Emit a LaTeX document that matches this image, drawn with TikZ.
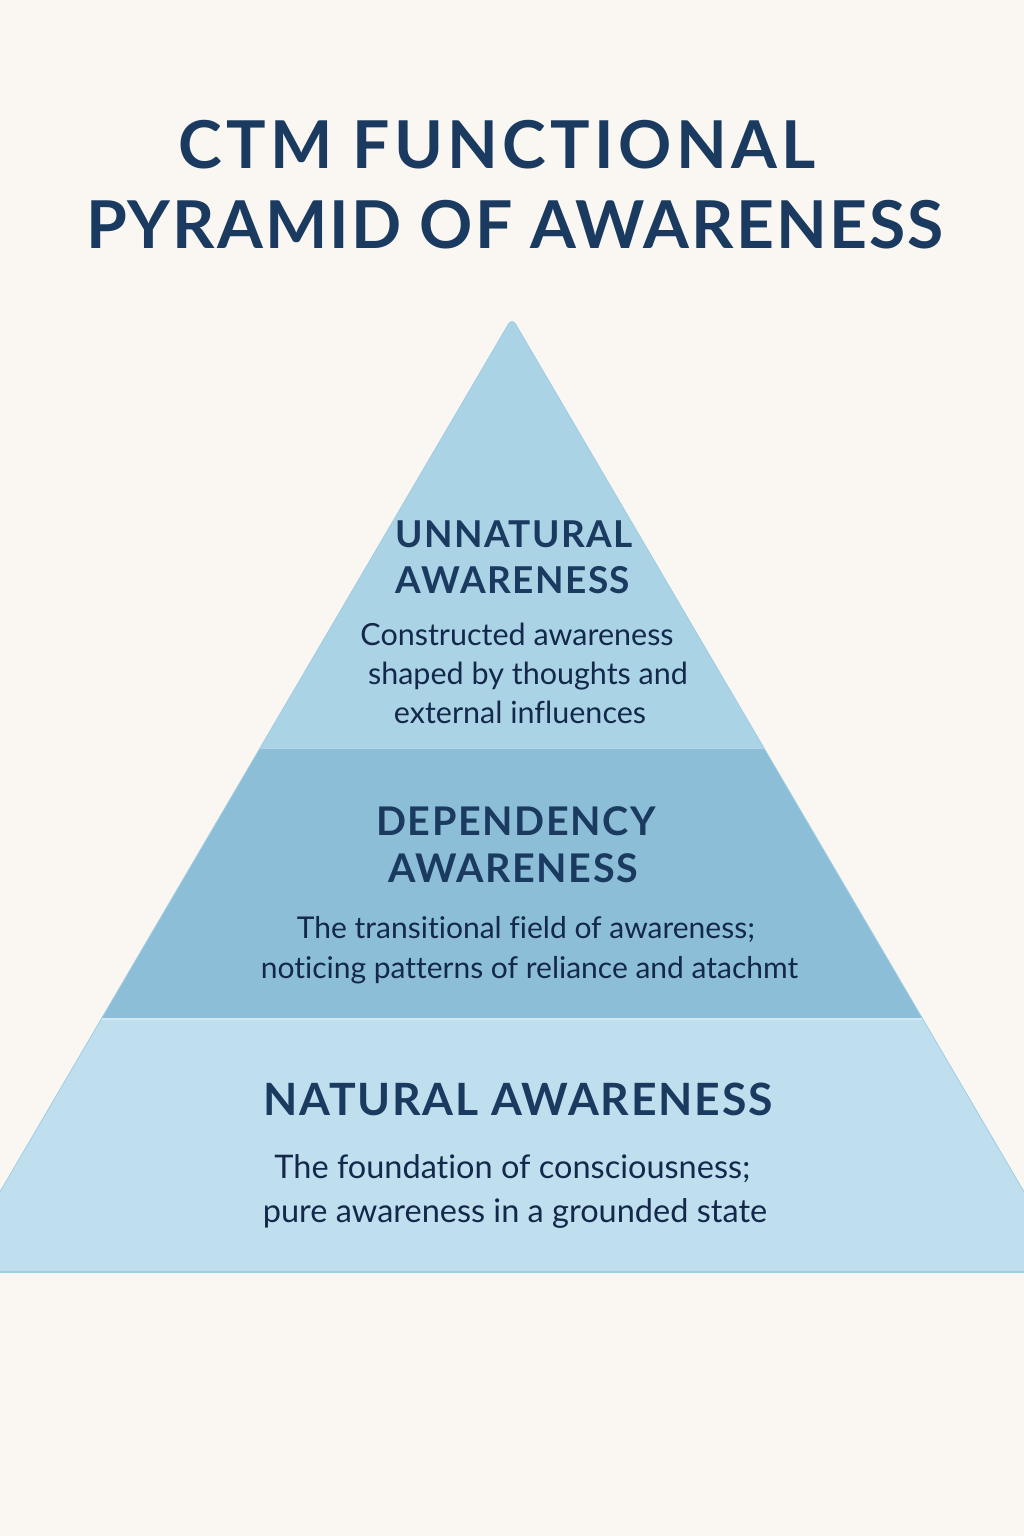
\documentclass[tikz,border=0pt]{standalone}
\usepackage{fontspec}
\setmainfont[Ligatures=CommonOff]{Lato}
\newfontfamily\headfont[LetterSpace=4]{Lato Bold}
\newfontfamily\titlefontA[LetterSpace=6.5]{Lato Bold}
\newfontfamily\titlefontB[LetterSpace=3.2]{Lato Bold}
\definecolor{bg}{HTML}{FAF7F2}
\definecolor{topband}{HTML}{AAD3E6}
\definecolor{midband}{HTML}{8CBFD7}
\definecolor{botband}{HTML}{BFDFEF}
\definecolor{edge}{HTML}{9FCDE4}
\definecolor{navy}{HTML}{1A3A5F}
\definecolor{ink}{HTML}{13284A}
\tikzset{
  titletext/.style={anchor=base, inner sep=0pt, text=navy},
  headtext/.style={anchor=base, inner sep=0pt, text=navy},
  bodytext/.style={anchor=base, inner sep=0pt, text=ink},
}
\begin{document}
\begin{tikzpicture}[x=1pt,y=-1pt]
\useasboundingbox (0,0) rectangle (1024,1536);
\fill[bg] (0,0) rectangle (1024,1536);
% pyramid
\begin{scope}
\clip (0,0) rectangle (1024,1536);
\coordinate (apex) at (512,318);
\coordinate (bl) at (-47,1272);
\coordinate (br) at (1071,1272);
\begin{scope}
\clip (bl) [rounded corners=7pt] -- (apex) [sharp corners] -- (br) -- cycle;
\fill[topband] (-60,300) rectangle (1090,748);
\fill[midband] (-60,748) rectangle (1090,1018);
\fill[botband] (-60,1018) rectangle (1090,1272);
\draw[botband!70!white, line width=1.5pt] (-60,1019) -- (1090,1019);
\draw[topband!90!white, line width=1pt] (-60,748.5) -- (1090,748.5);
\end{scope}
\draw[edge, line width=0.8pt] (bl) [rounded corners=7pt] -- (apex) [sharp corners] -- (br);
\draw[edge, line width=1.2pt] (-10,1272) -- (1034,1272);
\end{scope}
% title
\node[titletext, font=\titlefontA\fontsize{66}{70}\selectfont] (t1) at (497,168) {CTM FUNCTIONAL};
\node[titletext, font=\titlefontB\fontsize{66}{70}\selectfont] (t2) at (515,248) {PYRAMID OF AWARENESS};
% top band
\node[headtext, font=\headfont\fontsize{37}{40}\selectfont] (u1) at (514,547) {UNNATURAL};
\node[headtext, font=\headfont\fontsize{37}{40}\selectfont] (u2) at (513,593) {AWARENESS};
\node[bodytext, font=\fontsize{30.5}{32}\selectfont] (ub1) at (517,645) {Constructed awareness};
\node[bodytext, font=\fontsize{30.5}{32}\selectfont] (ub2) at (528,684) {shaped by thoughts and};
\node[bodytext, font=\fontsize{30.5}{32}\selectfont] (ub3) at (520,723) {external influences};
% middle band
\node[headtext, font=\headfont\fontsize{39.5}{42}\selectfont] (d1) at (516,835) {DEPENDENCY};
\node[headtext, font=\headfont\fontsize{39.5}{42}\selectfont] (d2) at (513,882) {AWARENESS};
\node[bodytext, font=\fontsize{30}{32}\selectfont] (db1) at (526,938) {The transitional field of awareness;};
\node[bodytext, font=\fontsize{30}{32}\selectfont] (db2) at (529.5,978) {noticing patterns of reliance and atachmt};
% bottom band
\node[headtext, font=\headfont\fontsize{44.5}{48}\selectfont] (n1) at (518,1115) {NATURAL AWARENESS};
\node[bodytext, font=\fontsize{32.5}{34}\selectfont] (nb1) at (512.5,1178) {The foundation of consciousness;};
\node[bodytext, font=\fontsize{32.5}{34}\selectfont] (nb2) at (515,1222) {pure awareness in a grounded state};
\end{tikzpicture}
\end{document}
